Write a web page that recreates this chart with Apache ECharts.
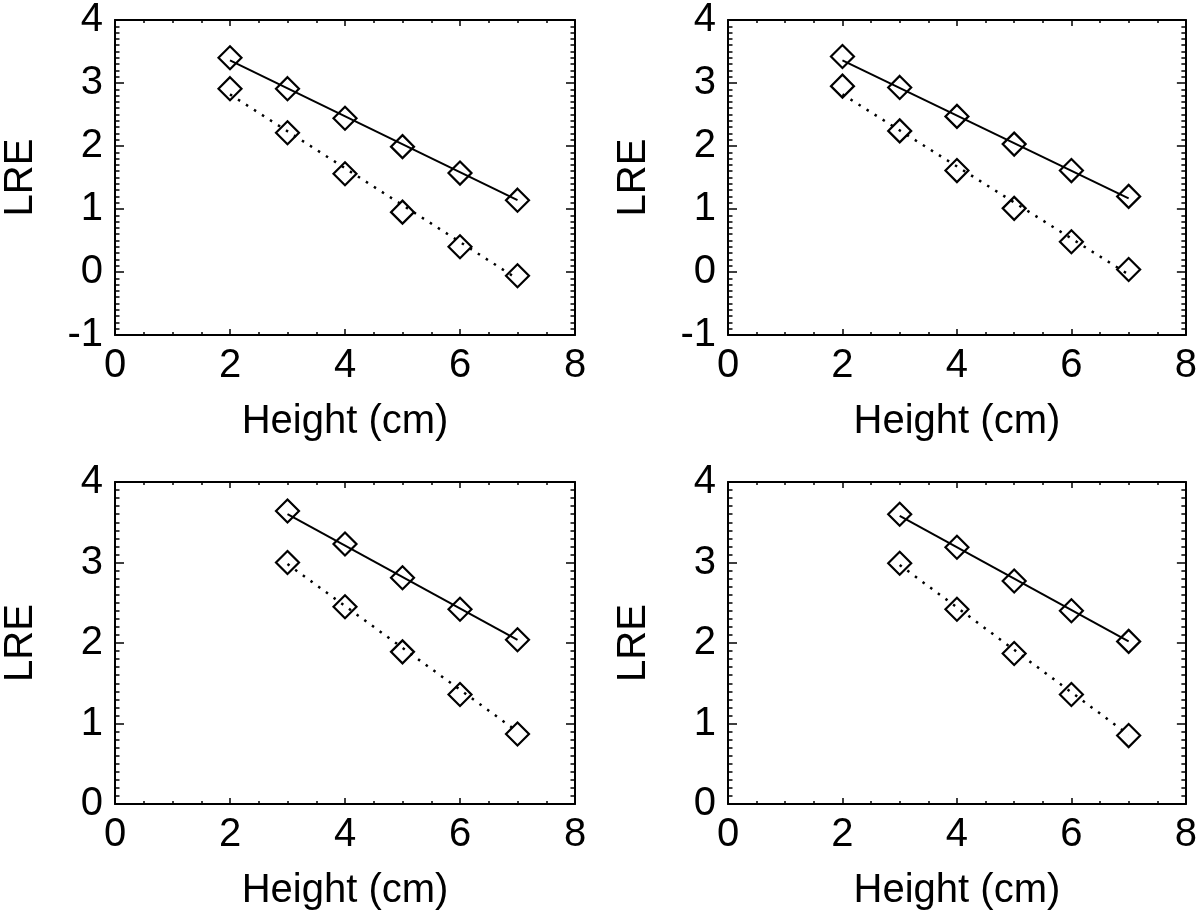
<!DOCTYPE html>
<html>
<head>
<meta charset="utf-8">
<script src="https://cdn.jsdelivr.net/npm/echarts@6/dist/echarts.min.js"></script>
<style>
html,body{margin:0;padding:0;background:#fff;}
#chart{width:1200px;height:912px;}
</style>
</head>
<body>
<div id="chart"></div>
<script>
// ---- data ----
const xTicks = [0, 2, 4, 6, 8];
const yTicksTop = [-1, 0, 1, 2, 3, 4];
const yTicksBottom = [0, 1, 2, 3, 4];
const xLabel = 'Height (cm)';
const yLabel = 'LRE';

const xTopPts = [2, 3, 4, 5, 6, 7];
const xBottomPts = [3, 4, 5, 6, 7];
const xTopFit = [2, 7];
const xBottomFit = [3, 7];

// panel 1 (top-left)
const p1Solid = [3.40, 2.91, 2.44, 1.99, 1.57, 1.14];
const p1Dotted = [2.91, 2.21, 1.56, 0.95, 0.40, -0.06];
const p1SolidFit = [3.36, 1.14];
const p1DottedFit = [2.82, -0.11];
// panel 2 (top-right)
const p2Solid = [3.42, 2.93, 2.47, 2.03, 1.61, 1.20];
const p2Dotted = [2.95, 2.24, 1.61, 1.01, 0.48, 0.04];
const p2SolidFit = [3.36, 1.17];
const p2DottedFit = [2.82, -0.04];
// panel 3 (bottom-left)
const p3Solid = [3.64, 3.23, 2.81, 2.42, 2.04];
const p3Dotted = [3.00, 2.45, 1.89, 1.36, 0.87];
const p3SolidFit = [3.60, 2.04];
const p3DottedFit = [2.98, 0.90];
// panel 4 (bottom-right)
const p4Solid = [3.60, 3.19, 2.77, 2.40, 2.02];
const p4Dotted = [2.99, 2.42, 1.87, 1.36, 0.85];
const p4SolidFit = [3.58, 2.02];
const p4DottedFit = [2.97, 0.86];

// ---- layout ----
const FONT = 'Liberation Sans';
const FS = 40;
const panels = [
  {left: 115, top: 12, height: 323, yT: yTicksTop, xs: xTopPts, xf: xTopFit, s: p1Solid, d: p1Dotted, sf: p1SolidFit, df: p1DottedFit},
  {left: 728, top: 12, height: 323, yT: yTicksTop, xs: xTopPts, xf: xTopFit, s: p2Solid, d: p2Dotted, sf: p2SolidFit, df: p2DottedFit},
  {left: 115, top: 482, height: 324, yT: yTicksBottom, xs: xBottomPts, xf: xBottomFit, s: p3Solid, d: p3Dotted, sf: p3SolidFit, df: p3DottedFit},
  {left: 728, top: 482, height: 324, yT: yTicksBottom, xs: xBottomPts, xf: xBottomFit, s: p4Solid, d: p4Dotted, sf: p4SolidFit, df: p4DottedFit}
];

const zip = (xs, ys) => xs.map((x, i) => [x, ys[i]]);
const grid = [], xAxis = [], yAxis = [], series = [];
const lineBlack = {color: '#000', width: 2};

panels.forEach((p, i) => {
  grid.push({left: p.left, top: p.top, width: 460, height: p.height, containLabel: false});
  const xBase = {
    gridIndex: i, type: 'value', min: xTicks[0], max: xTicks[xTicks.length - 1], interval: 2,
    axisLine: {show: true, onZero: false, lineStyle: lineBlack},
    axisTick: {show: true, inside: true, length: 6, lineStyle: {color: '#000', width: 1.5}},
    minorTick: {show: true, splitNumber: 4, length: 3, lineStyle: {color: '#000', width: 1.5}},
    splitLine: {show: false}, minorSplitLine: {show: false}
  };
  xAxis.push(Object.assign({}, xBase, {
    position: 'bottom',
    axisLabel: {show: true, margin: 11, color: '#000', fontFamily: FONT, fontSize: FS},
    name: xLabel, nameLocation: 'middle', nameGap: 67,
    nameTextStyle: {color: '#000', fontFamily: FONT, fontSize: FS}
  }));
  xAxis.push(Object.assign({}, xBase, {position: 'top', axisLabel: {show: false}}));
  const yBase = {
    gridIndex: i, type: 'value', min: p.yT[0], max: p.yT[p.yT.length - 1], interval: 1,
    axisLine: {show: true, onZero: false, lineStyle: lineBlack},
    axisTick: {show: true, inside: true, length: 9, lineStyle: {color: '#000', width: 1.5}},
    minorTick: {show: true, splitNumber: 10, length: 4.5, lineStyle: {color: '#000', width: 1.5}},
    splitLine: {show: false}, minorSplitLine: {show: false}
  };
  yAxis.push(Object.assign({}, yBase, {
    position: 'left',
    axisLabel: {show: true, margin: 12, color: '#000', fontFamily: FONT, fontSize: FS},
    name: yLabel, nameLocation: 'middle', nameGap: 74, nameRotate: 90,
    nameTextStyle: {color: '#000', fontFamily: FONT, fontSize: FS}
  }));
  yAxis.push(Object.assign({}, yBase, {position: 'right', axisLabel: {show: false}}));

  const xi = i * 2, yi = i * 2;
  series.push({
    type: 'line', xAxisIndex: xi, yAxisIndex: yi, data: zip(p.xf, p.sf),
    showSymbol: false, symbol: 'none', lineStyle: {color: '#000', width: 2, type: 'solid'}, silent: true, z: 2
  });
  series.push({
    type: 'line', xAxisIndex: xi, yAxisIndex: yi, data: zip(p.xf, p.df),
    showSymbol: false, symbol: 'none', lineStyle: {color: '#000', width: 2.5, type: [2.5, 7]}, silent: true, z: 2
  });
  [p.s, p.d].forEach(vals => {
    series.push({
      type: 'scatter', xAxisIndex: xi, yAxisIndex: yi, data: zip(p.xs, vals),
      symbol: 'diamond', symbolSize: 23,
      itemStyle: {color: 'rgba(255,255,255,0)', borderColor: '#000', borderWidth: 2.2, opacity: 1},
      silent: true, z: 3
    });
  });
});

const chart = echarts.init(document.getElementById('chart'), null, {renderer: 'canvas'});
chart.setOption({
  backgroundColor: '#fff',
  animation: false,
  grid, xAxis, yAxis, series
});
</script>
</body>
</html>
